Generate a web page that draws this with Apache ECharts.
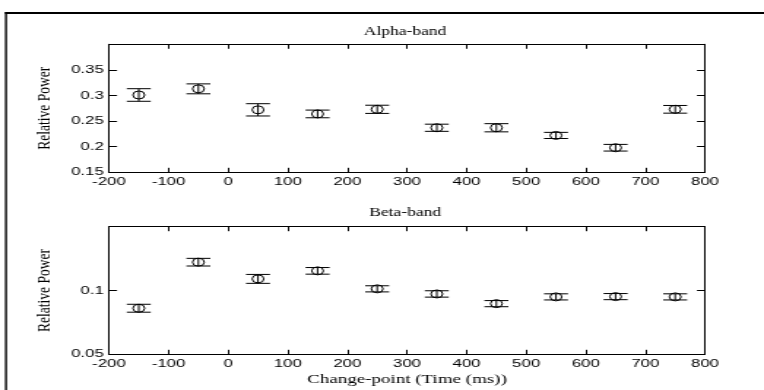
<!DOCTYPE html>
<html>
<head>
<meta charset="utf-8">
<script src="https://cdn.jsdelivr.net/npm/echarts@6/dist/echarts.min.js"></script>
<style>
  html, body { margin: 0; padding: 0; background: #fff; overflow: hidden; }
  #wrap { width: 764px; height: 390px; overflow: hidden; }
  /* the source figure is stretched sideways, so draw narrow and stretch */
  #chart { width: 523px; height: 390px; transform: scaleX(1.4608); transform-origin: 0 0; }
</style>
</head>
<body>
<div id="wrap"><div id="chart"></div></div>
<script>
// change-point times (ms)
var times = [-150, -50, 50, 150, 250, 350, 450, 550, 650, 750]

// alpha band: mean relative power and error half-width
var alphaMean = [0.301, 0.313, 0.272, 0.264, 0.273, 0.237, 0.237, 0.222, 0.198, 0.273]
var alphaErr = [0.0123, 0.0097, 0.012, 0.0075, 0.008, 0.007, 0.008, 0.006, 0.0065, 0.0075]

// beta band
var betaMean = [0.0861, 0.1222, 0.1091, 0.1154, 0.1013, 0.0973, 0.0897, 0.095, 0.0952, 0.095]
var betaErr = [0.0031, 0.003, 0.0035, 0.0026, 0.0024, 0.0025, 0.0024, 0.0024, 0.0024, 0.0024]

var xTicks = { min: -200, max: 800, interval: 100 }
var alphaTicks = { min: 0.15, max: 0.4, interval: 0.05 }
var betaTicks = { min: 0.05, max: 0.15, interval: 0.05 }

var CAP = 8.2 // half width of the error bar caps, px (before stretch)
var LABEL_FONT = 'Liberation Sans'
var TEXT_FONT = 'Liberation Serif'

var myChart = echarts.init(document.getElementById('chart'))

function rows(mean, err) {
  return times.map(function (t, i) {
    return [t, mean[i], err[i]]
  })
}

// error bar + open circle, matlab style
function renderErr(params, api) {
  var x = api.value(0)
  var m = api.value(1)
  var e = api.value(2)
  var hi = api.coord([x, m + e])
  var lo = api.coord([x, m - e])
  var mid = api.coord([x, m])
  var st = { stroke: '#000', lineWidth: 1, fill: null }
  return {
    type: 'group',
    children: [
      { type: 'line', shape: { x1: hi[0], y1: hi[1], x2: lo[0], y2: lo[1] }, style: st },
      { type: 'line', shape: { x1: hi[0] - CAP, y1: hi[1], x2: hi[0] + CAP, y2: hi[1] }, style: st },
      { type: 'line', shape: { x1: lo[0] - CAP, y1: lo[1], x2: lo[0] + CAP, y2: lo[1] }, style: st },
      { type: 'circle', shape: { cx: mid[0], cy: mid[1], r: 4 }, style: { stroke: '#000', lineWidth: 1, fill: 'none' } },
    ],
  }
}

function xAxis(grid, pos, labels, name) {
  return {
    type: 'value',
    gridIndex: grid,
    position: pos,
    min: xTicks.min,
    max: xTicks.max,
    interval: xTicks.interval,
    name: name || '',
    nameLocation: 'middle',
    nameGap: 19,
    nameTextStyle: { fontFamily: TEXT_FONT, fontSize: 13, color: '#000' },
    axisLine: { show: true, onZero: false, lineStyle: { color: '#000', width: 1 } },
    axisTick: { show: true, inside: true, length: 4.5, lineStyle: { color: '#000' } },
    axisLabel: { show: labels, margin: 4, fontFamily: LABEL_FONT, fontSize: 11.5, color: '#000' },
    splitLine: { show: false },
  }
}

function yAxis(grid, pos, ticks, labels) {
  return {
    type: 'value',
    gridIndex: grid,
    position: pos,
    min: ticks.min,
    max: ticks.max,
    interval: ticks.interval,
    name: labels ? 'Relative Power' : '',
    nameLocation: 'middle',
    nameGap: 35,
    nameRotate: 90,
    nameTextStyle: { fontFamily: TEXT_FONT, fontSize: 13.5, color: '#000' },
    axisLine: { show: true, onZero: false, lineStyle: { color: '#000', width: 1 } },
    axisTick: { show: true, inside: true, length: 5.5, lineStyle: { color: '#000' } },
    axisLabel: { show: labels, showMaxLabel: false, margin: 3.5, fontFamily: LABEL_FONT, fontSize: 11.5, color: '#000' },
    splitLine: { show: false },
  }
}

var option = {
  animation: false,
  backgroundColor: '#fff',
  grid: [
    { left: 74.6, top: 44.3, width: 408, height: 128 },
    { left: 74.6, top: 226.7, width: 408, height: 127.6 },
  ],
  xAxis: [
    xAxis(0, 'bottom', true),
    xAxis(0, 'top', false),
    xAxis(1, 'bottom', true, 'Change-point (Time (ms))'),
    xAxis(1, 'top', false),
  ],
  yAxis: [
    yAxis(0, 'left', alphaTicks, true),
    yAxis(0, 'right', alphaTicks, false),
    yAxis(1, 'left', betaTicks, true),
    yAxis(1, 'right', betaTicks, false),
  ],
  graphic: [
    // panel titles
    { type: 'text', x: 277.3, y: 31.7, style: { text: 'Alpha-band', fontFamily: TEXT_FONT, fontSize: 12, fill: '#000', align: 'center', verticalAlign: 'middle' } },
    { type: 'text', x: 277.3, y: 213, style: { text: 'Beta-band', fontFamily: TEXT_FONT, fontSize: 12, fill: '#000', align: 'center', verticalAlign: 'middle' } },
    // outer frame of the figure
    { type: 'line', shape: { x1: 3.4, y1: 13, x2: 523, y2: 13 }, style: { stroke: '#000', lineWidth: 2 } },
    { type: 'line', shape: { x1: 4.1, y1: 12, x2: 4.1, y2: 390 }, style: { stroke: '#000', lineWidth: 1.4 } },
  ],
  series: [
    {
      type: 'custom',
      xAxisIndex: 0,
      yAxisIndex: 0,
      renderItem: renderErr,
      encode: { x: 0, y: 1 },
      data: rows(alphaMean, alphaErr),
    },
    {
      type: 'custom',
      xAxisIndex: 2,
      yAxisIndex: 2,
      renderItem: renderErr,
      encode: { x: 0, y: 1 },
      data: rows(betaMean, betaErr),
    },
  ],
}

myChart.setOption(option)
</script>
</body>
</html>
